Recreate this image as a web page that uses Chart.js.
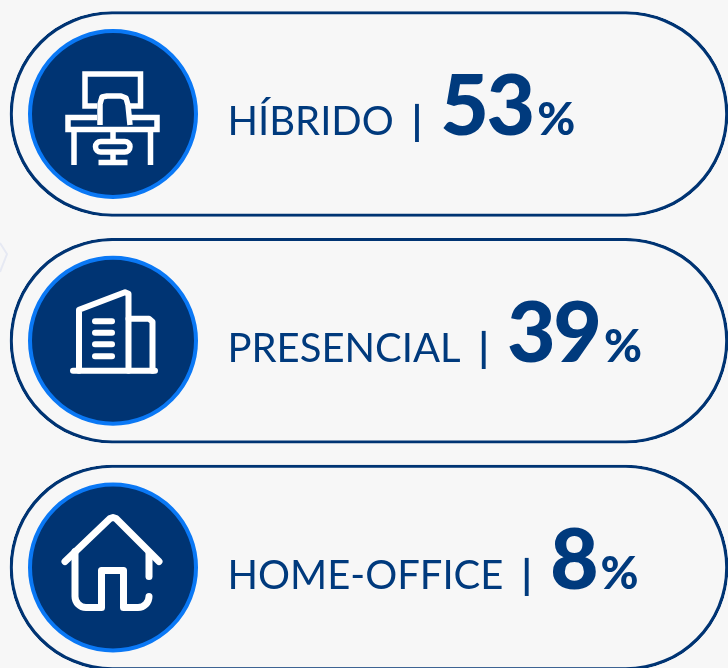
<!DOCTYPE html>
<html lang="pt">
<head>
<meta charset="utf-8">
<title>Modelo de trabalho</title>
<style>
  html, body { margin: 0; padding: 0; width: 728px; height: 668px; overflow: hidden; background: #f7f7f7; }
  canvas { display: block; }
</style>
<script src="https://cdn.jsdelivr.net/npm/chart.js@4"></script>
</head>
<body>
<canvas id="chart" width="728" height="668"></canvas>
<script>
'use strict';

const categories = ['HÍBRIDO', 'PRESENCIAL', 'HOME-OFFICE'];
const shares = [53, 39, 8];

const NAVY = '#003473';
const BLUE = '#0a78f5';
const TEXT = '#003a7d';
const FONT = 'Lato, Carlito, sans-serif';

// row layout on the 0-728 x scale
const PILL_START = 10;
const PILL_END = 728;
const BADGE_X = 113;

function line(ctx, pts) {
  ctx.beginPath();
  pts.forEach((p, i) => (i ? ctx.lineTo(p[0], p[1]) : ctx.moveTo(p[0], p[1])));
  ctx.stroke();
}

// icons are drawn relative to the badge centre
function drawDesk(ctx) {
  ctx.lineWidth = 5.5;
  ctx.lineJoin = 'miter';
  ctx.lineCap = 'butt';
  line(ctx, [[-16, -8], [-28, -8], [-28, -40], [27.5, -40], [27.5, -8], [15, -8]]);
  line(ctx, [[-16, 3.5], [-45, 3.5], [-45, 15.5], [44, 15.5], [44, 3.5], [16, 3.5]]);
  ctx.lineJoin = 'round';
  line(ctx, [[-13, 11], [-13, -10], [-11, -17], [-6, -18], [8, -18], [13, -16], [15, -9], [17, 11]]);
  line(ctx, [[-39, 15.5], [-39, 51]]);
  line(ctx, [[37.5, 15.5], [37.5, 51]]);
  line(ctx, [[0, 15.5], [0, 27]]);
  line(ctx, [[0, 38], [0, 49]]);
  line(ctx, [[-14.5, 48.5], [14.5, 48.5]]);
  ctx.beginPath();
  ctx.roundRect(-17.5, 27.5, 34.5, 10.5, 5.25);
  ctx.stroke();
}

function drawBuilding(ctx) {
  ctx.lineWidth = 6;
  ctx.lineJoin = 'round';
  ctx.lineCap = 'round';
  line(ctx, [[-40, 30], [42, 30]]);
  line(ctx, [[-34, 30], [-34, -31], [12, -48.5], [15.5, -47], [15.5, 30]]);
  line(ctx, [[15.5, -22], [36, -22], [39.5, -19], [39.5, 30]]);
  [-19.5, -8, 3.5, 15.5].forEach(y => line(ctx, [[-18, y], [-1, y]]));
}

function drawHouse(ctx) {
  ctx.lineWidth = 7;
  ctx.lineJoin = 'round';
  ctx.lineCap = 'round';
  line(ctx, [[-48, -6], [-3, -49], [0, -50], [3, -49], [46, -6]]);
  ctx.beginPath();
  ctx.moveTo(-38, -16);
  ctx.lineTo(-38, 29);
  ctx.arcTo(-38, 40, -27, 40, 11);
  ctx.lineTo(-11.5, 40);
  ctx.lineTo(-11.5, 3);
  ctx.lineTo(10.5, 3);
  ctx.lineTo(10.5, 40);
  ctx.lineTo(25, 40);
  ctx.arcTo(36, 40, 36, 26, 11);
  ctx.stroke();
  line(ctx, [[36, -14], [36, 9]]);
}

const icons = [drawDesk, drawBuilding, drawHouse];

const rowArt = {
  id: 'rowArt',
  beforeDatasetsDraw(chart) {
    // faint watermark cut off by the left edge
    const ctx = chart.ctx;
    ctx.save();
    ctx.strokeStyle = '#e6e9f3';
    ctx.lineWidth = 2;
    line(ctx, [[0, 243], [7, 254], [0, 272]]);
    ctx.restore();
  },
  afterDatasetsDraw(chart) {
    const ctx = chart.ctx;
    const x = chart.scales.x;
    const y = chart.scales.y;
    categories.forEach((name, i) => {
      const cy = y.getPixelForValue(i);
      ctx.save();
      ctx.translate(x.getPixelForValue(BADGE_X), cy);
      ctx.strokeStyle = '#fff';
      icons[i](ctx);
      ctx.restore();

      // label | value%
      const base = cy + 21;
      const value = String(shares[i]);
      ctx.save();
      ctx.fillStyle = TEXT;
      ctx.textBaseline = 'alphabetic';
      let pen = 227.5;
      ctx.font = `400 40px ${FONT}`;
      ctx.fillText(name, pen, base);
      pen += ctx.measureText(name).width + 18;
      ctx.font = `700 40px ${FONT}`;
      ctx.fillText('|', pen, base);
      pen += ctx.measureText('|').width + 18;
      ctx.font = `900 84px ${FONT}`;
      ctx.letterSpacing = '-2.5px';
      ctx.fillText(value, pen, base);
      pen += ctx.measureText(value).width + 4.5;
      ctx.letterSpacing = '0px';
      ctx.font = `900 46px ${FONT}`;
      ctx.fillText('%', pen, base);
      ctx.restore();
    });
  },
};

new Chart(document.getElementById('chart'), {
  data: {
    labels: categories,
    datasets: [
      {
        type: 'bar',
        data: categories.map(() => [PILL_START, PILL_END]),
        barThickness: 205,
        backgroundColor: 'rgba(0,0,0,0)',
        borderColor: NAVY,
        borderWidth: 2.5,
        borderSkipped: false,
        borderRadius: 102,
        clip: false,
        order: 2,
      },
      {
        type: 'line',
        data: categories.map(() => BADGE_X),
        showLine: false,
        pointRadius: 83,
        pointBackgroundColor: NAVY,
        pointBorderColor: BLUE,
        pointBorderWidth: 4,
        clip: false,
        order: 1,
      },
    ],
  },
  options: {
    indexAxis: 'y',
    responsive: false,
    animation: false,
    events: [],
    layout: { autoPadding: false, padding: { top: 114, bottom: 100.5, left: 0, right: 0 } },
    plugins: { legend: { display: false }, tooltip: { enabled: false } },
    scales: {
      x: { type: 'linear', min: 0, max: 728, display: false },
      y: { type: 'category', offset: false, display: false },
    },
  },
  plugins: [rowArt],
});
</script>
</body>
</html>
